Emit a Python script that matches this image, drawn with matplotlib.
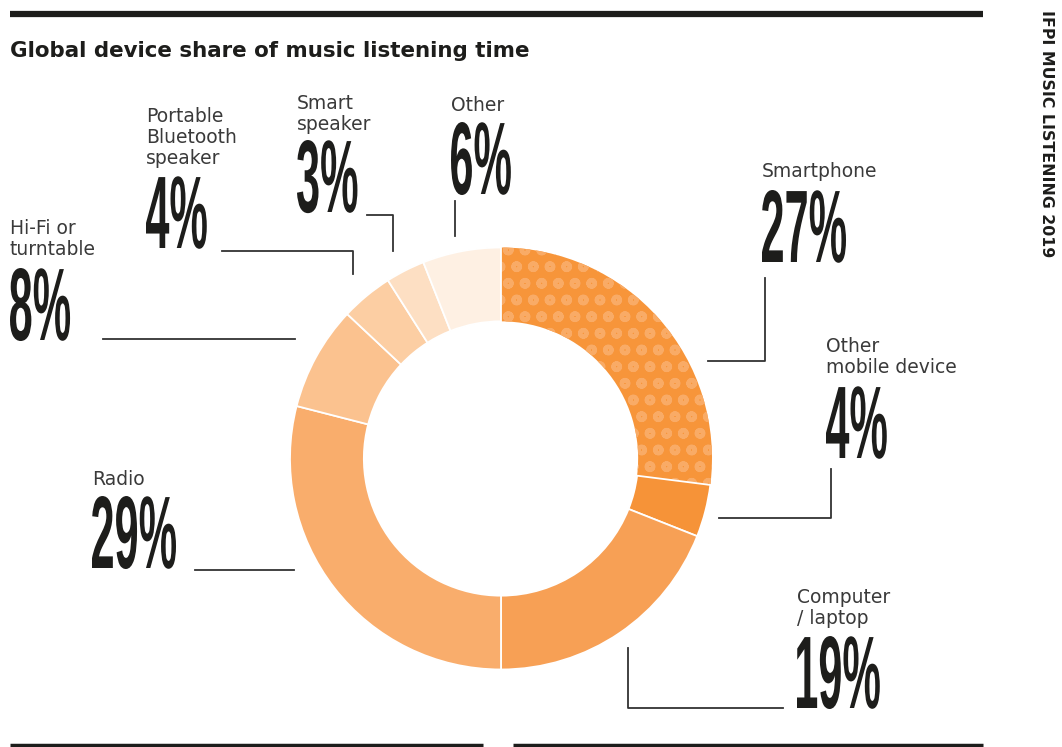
import matplotlib
matplotlib.use('Agg')
import matplotlib.pyplot as plt
from matplotlib.textpath import TextPath
from matplotlib.patches import PathPatch
from matplotlib.font_manager import FontProperties
from matplotlib.transforms import Affine2D

# device share of listening time, clockwise from 12 o'clock
devices = ['Smartphone', 'Other\nmobile device', 'Computer\n/ laptop', 'Radio',
           'Hi-Fi or\nturntable', 'Portable\nBluetooth\nspeaker', 'Smart\nspeaker', 'Other']
shares = [27, 4, 19, 29, 8, 4, 3, 6]
colors = ['#F7953A', '#F69338', '#F7A055', '#F9AD6C', '#FBC28F', '#FCCEA3', '#FDDFC3', '#FEF0E3']

# label anchors in pixels: (x, baseline of last name line, baseline of big number)
label_pos = [(762, 177, 262), (826, 373, 458), (797, 624, 708), (92, 485, 568),
             (10, 255, 340), (146, 164, 248), (297, 130, 212), (451, 111, 194)]
# leader lines in pixels
leaders = [
    [(708, 361), (765, 361), (765, 278)],
    [(719, 518), (831, 518), (831, 469)],
    [(628, 648), (628, 708), (783, 708)],
    [(195, 570), (294, 570)],
    [(103, 339), (295, 339)],
    [(222, 251), (353, 251), (353, 274)],
    [(367, 215), (393, 215), (393, 251)],
    [(455, 201), (455, 236)],
]

W, H = 1062, 747
plt.rcParams['hatch.linewidth'] = 3.0
fig = plt.figure(figsize=(W / 100, H / 100), dpi=100)

# overlay in pixel coordinates for text and rules
ov = fig.add_axes([0, 0, 1, 1])
ov.set_xlim(0, W)
ov.set_ylim(H, 0)
ov.axis('off')

# donut
cx, cy, R = 501, 458.5, 211
ax = fig.add_axes([(cx - R) / W, (H - cy - R) / H, 2 * R / W, 2 * R / H])
wedges, _ = ax.pie(shares, colors=colors, startangle=90, counterclock=False,
                   wedgeprops=dict(width=0.35, edgecolor='white', linewidth=1.3))
ax.set_xlim(-1, 1)
ax.set_ylim(-1, 1)
ax.set_aspect('equal')
ax.axis('off')
# dotted pattern on smartphone slice
sm = wedges[0]
sm.set_hatch('o')
sm.set_edgecolor('#F9AB66')
sm.set_linewidth(0)
sm.set_zorder(0)

# rules
ov.plot([10, 983], [14, 14], color='#1d1d1b', lw=4.5, solid_capstyle='butt')
ov.plot([10, 483], [745, 745], color='#1d1d1b', lw=2.5, solid_capstyle='butt')
ov.plot([513, 983], [745, 745], color='#1d1d1b', lw=2.5, solid_capstyle='butt')

ov.text(10, 57, 'Global device share of music listening time', fontsize=15.4,
        fontweight='bold', color='#1d1d1b', va='baseline', ha='left')
ov.text(1047, 10, 'IFPI MUSIC LISTENING 2019', fontsize=11.3, fontweight='bold',
        color='#1d1d1b', rotation=270, ha='center', va='top')

big_fp = FontProperties(family='Liberation Sans', weight='bold')
ref_h = TextPath((0, 0), '0', size=100, prop=big_fp).get_extents().height
sy = 73 / ref_h
sx = sy * 0.42


def big_number(txt, x, base):
    tp = TextPath((0, 0), txt, size=100, prop=big_fp)
    x0 = tp.get_extents().x0
    tr = Affine2D().translate(-x0, 0).scale(sx, -sy).translate(x, base)
    ov.add_patch(PathPatch(tr.transform_path(tp), fc='#1d1d1b', ec='none'))


for name, v, (x, yb, nb) in zip(devices, shares, label_pos):
    ov.text(x, yb, name, fontsize=13.5, color='#3a3a3a', ha='left', va='baseline',
            linespacing=1.12)
    big_number(f'{v}%', x, nb)

for pts in leaders:
    xs, ys = zip(*pts)
    ov.plot(xs, ys, color='#333333', lw=1.3)

fig.savefig('out.png', dpi=100)
